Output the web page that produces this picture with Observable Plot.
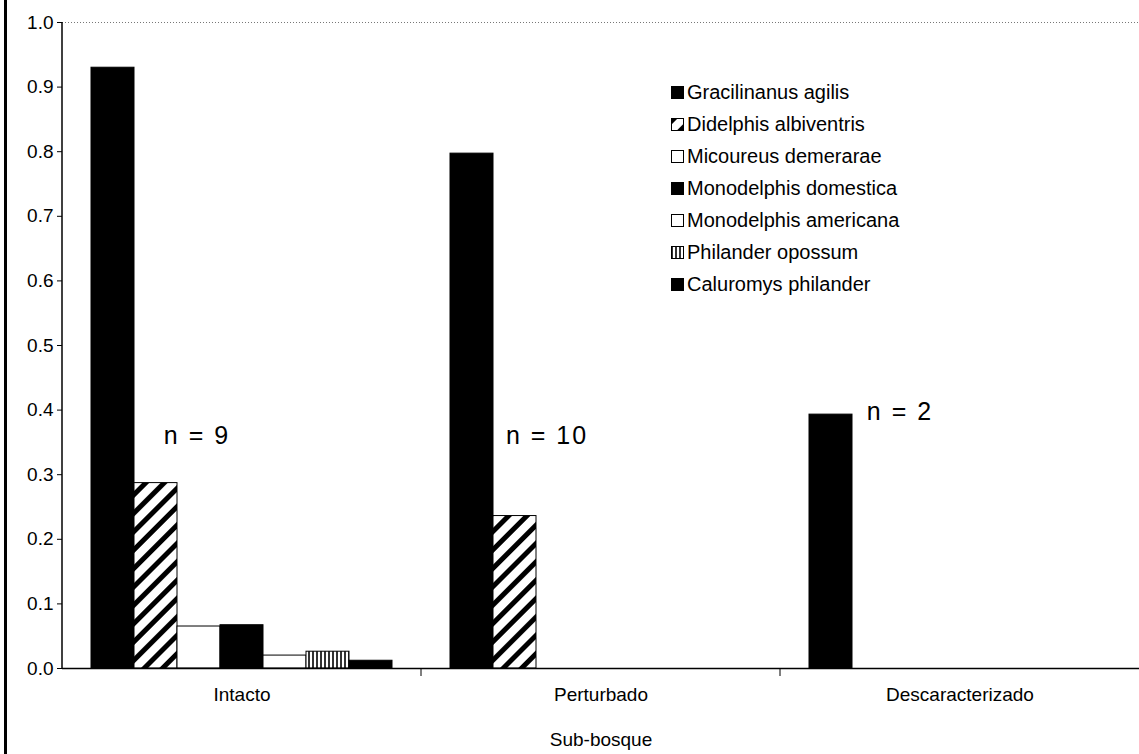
<!DOCTYPE html>
<html>
<head>
<meta charset="utf-8">
<script src="https://cdn.jsdelivr.net/npm/d3@7"></script>
<script src="https://cdn.jsdelivr.net/npm/@observablehq/plot@0.6"></script>
<style>
  body { margin: 0; background: white; }
  #wrap { position: relative; width: 1139px; height: 754px; font-family: "Liberation Sans", Arial, sans-serif; overflow: hidden; }
  #scanline { position: absolute; left: 4px; top: 0; width: 3px; height: 754px; background: black; }
  #legend { position: absolute; left: 671px; top: 76px; font-size: 20px; color: black; }
  #legend .row { display: flex; align-items: center; height: 32px; }
  #legend svg { margin-right: 3px; }
</style>
</head>
<body>
<svg width="0" height="0" style="position:absolute">
  <defs>
    <pattern id="hatch" width="13" height="13" patternUnits="userSpaceOnUse" patternTransform="rotate(45)">
      <rect width="13" height="13" fill="white"></rect>
      <rect width="5" height="13" fill="black"></rect>
    </pattern>
    <pattern id="stripes" width="4" height="4" patternUnits="userSpaceOnUse">
      <rect width="4" height="4" fill="white"></rect>
      <rect width="2" height="4" fill="#333"></rect>
    </pattern>
  </defs>
</svg>
<div id="wrap">
  <div id="scanline"></div>
  <div id="chart"></div>
  <div id="legend"></div>
</div>
<script>
const categories = ["Intacto", "Perturbado", "Descaracterizado"];
const species = [
  "Gracilinanus agilis",
  "Didelphis albiventris",
  "Micoureus demerarae",
  "Monodelphis domestica",
  "Monodelphis americana",
  "Philander opossum",
  "Caluromys philander"
];
const intacto = [0.93, 0.287, 0.065, 0.067, 0.02, 0.026, 0.012];
const perturbado = [0.797, 0.236, 0, 0, 0, 0, 0];
const descaracterizado = [0.393, 0, 0, 0, 0, 0, 0];
const yTicks = [0, 0.1, 0.2, 0.3, 0.4, 0.5, 0.6, 0.7, 0.8, 0.9, 1.0];
const nLabels = ["n = 9", "n = 10", "n = 2"];
const nY = [0.36, 0.36, 0.397];
const xLabel = "Sub-bosque";

const fills = ["black", "url(#hatch)", "white", "black", "white", "url(#stripes)", "black"];

const series = [intacto, perturbado, descaracterizado];
const data = [];
categories.forEach((c, i) => species.forEach((s, j) => {
  if (series[i][j] > 0) data.push({cat: c, species: s, value: series[i][j]});
}));
const nData = categories.map((c, i) => ({cat: c, label: nLabels[i], y: nY[i]}));
const nDx = [-2, -11, -17];

const marks = [
  Plot.ruleY([1], {stroke: "#777", strokeDasharray: "1,2"}),
  Plot.barY(data, {fx: "cat", x: "species", y: "value", fill: "species", stroke: "black", strokeWidth: 1}),
  Plot.ruleY([0], {stroke: "black", strokeWidth: 1.5})
];
nData.forEach((d, i) => {
  marks.push(Plot.text([d], {fx: "cat", x: () => species[2], y: "y", text: "label", fontSize: 25, dx: nDx[i]}));
});

const chart = Plot.plot({
  width: 1139,
  height: 754,
  marginTop: 22,
  marginBottom: 86,
  marginLeft: 62,
  marginRight: 0,
  style: {fontFamily: "'Liberation Sans', Arial, sans-serif", fontSize: "19px", background: "white", color: "black"},
  fx: {domain: categories, padding: 0, tickSize: 0, tickPadding: 19, label: xLabel, labelAnchor: "center", labelOffset: 77},
  x: {domain: species, paddingInner: 0, paddingOuter: 0.6, axis: null},
  y: {domain: [0, 1], ticks: yTicks, tickFormat: d3.format(".1f"), tickSize: 5, tickPadding: 4, label: null},
  color: {domain: species, range: fills, type: "ordinal"},
  marks
});
document.getElementById("chart").appendChild(chart);

// n-label spacing
d3.select(chart).selectAll("g[aria-label='text'] text").attr("letter-spacing", 2);

const fx = chart.scale("fx");
const y = chart.scale("y");
const y0 = y.apply(0);
const y1 = y.apply(1);
const g = d3.select(chart).append("g").attr("stroke", "black");
// y axis line
g.append("line").attr("x1", 62).attr("x2", 62).attr("y1", y1).attr("y2", y0).attr("stroke-width", 1.5);
// separator ticks at facet boundaries
g.selectAll("line.sep")
  .data(categories.slice(1))
  .join("line")
  .attr("class", "sep")
  .attr("x1", c => fx.apply(c)).attr("x2", c => fx.apply(c))
  .attr("y1", y0).attr("y2", y0 + 8);

// legend
const legend = d3.select("#legend");
species.forEach((s, i) => {
  const row = legend.append("div").attr("class", "row");
  const sw = row.append("svg").attr("width", 13).attr("height", 13);
  sw.append("rect").attr("x", 0.5).attr("y", 0.5).attr("width", 12).attr("height", 12)
    .attr("fill", fills[i]).attr("stroke", "black");
  row.append("span").text(s);
});
</script>
</body>
</html>
